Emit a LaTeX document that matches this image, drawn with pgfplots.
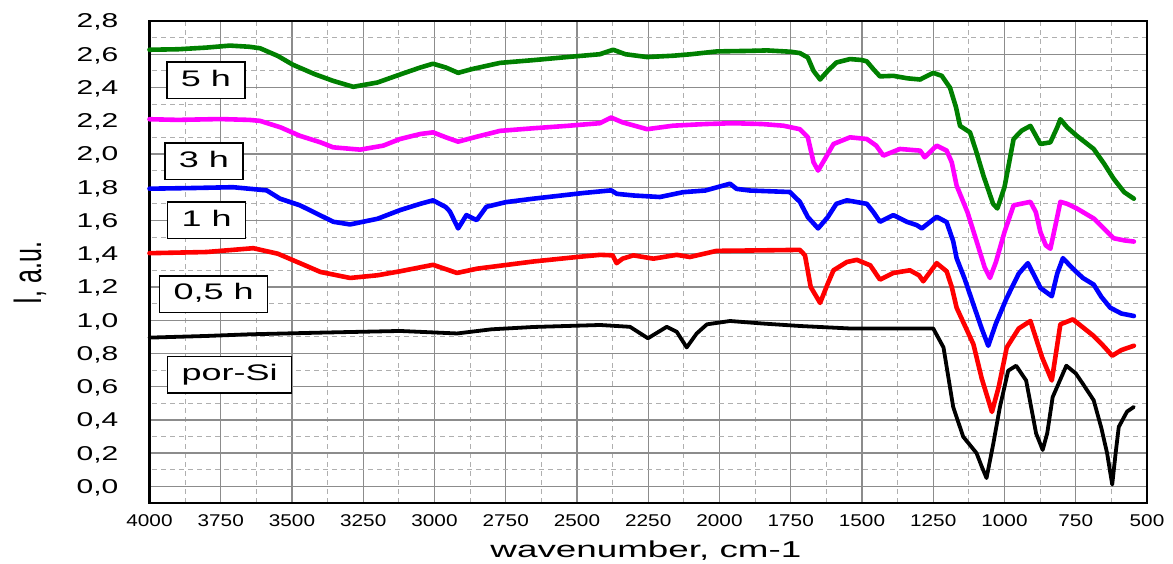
\documentclass[border=0pt]{standalone}
\usepackage{fontspec}
\usepackage{graphicx}
\setmainfont{Liberation Sans}
\newfontfamily\ytf{Liberation Sans}[FakeStretch=1.5]
\newfontfamily\xtf{Liberation Sans}[FakeStretch=1.22]
\newfontfamily\lbf{Liberation Sans}[FakeStretch=1.6]
\usepackage{pgfplots}
\pgfplotsset{compat=1.18}
\definecolor{cgreen}{RGB}{0,128,0}
\definecolor{cmag}{RGB}{255,0,255}
\definecolor{cblue}{RGB}{0,0,255}
\definecolor{cred}{RGB}{255,0,0}
\definecolor{majgrid}{RGB}{140,140,140}
\definecolor{mingrid}{RGB}{175,175,175}
\begin{document}
\begin{tikzpicture}
\useasboundingbox (-149.5pt,-61pt) rectangle (1023.5pt,503pt);
\begin{axis}[
  scale only axis,
  width=997.5pt, height=482pt,
  x dir=reverse,
  xmin=500, xmax=4000,
  ymin=-0.1, ymax=2.8,
  xtick={500,750,...,4000},
  ytick={0,0.2,...,2.81},
  minor x tick num=1, minor y tick num=1,
  major tick length=0pt, minor tick length=0pt,
  grid=both,
  major grid style={draw=majgrid, line width=1.3pt},
  minor grid style={draw=mingrid, line width=1pt, dash pattern=on 5pt off 4pt},
  axis line style={line width=2.5pt},
  /pgf/number format/assume math mode=true,
  yticklabel style={/pgf/number format/fixed, /pgf/number format/fixed zerofill, /pgf/number format/precision=1, /pgf/number format/use comma},
  xticklabel style={/pgf/number format/1000 sep={}},
  yticklabel style={font=\ytf\fontsize{20}{20}\selectfont, anchor=base east, inner sep=0pt, xshift=-31pt, yshift=-7pt},
  xticklabel style={font=\xtf\fontsize{17}{17}\selectfont, anchor=base, inner sep=0pt, yshift=-24pt},
  xlabel={wavenumber, cm-1},
  xlabel style={font=\lbf\fontsize{23}{23}\selectfont, at={(axis description cs:0.4977,-0.114)}, anchor=base, inner sep=0pt},
  ylabel={\scalebox{1}[1.6]{I, a.u.}},
  ylabel style={font=\fontsize{25}{25}\selectfont, at={(axis description cs:-0.1198,0.477)}, anchor=center, inner sep=0pt},
  every axis plot/.append style={line join=round, line cap=round},
  clip=false,
]
% 5 h
\addplot[cgreen, line width=4.6pt] coordinates {
(4000,2.627) (3900,2.630) (3800,2.640) (3718,2.652) (3650,2.645) (3612,2.636) (3550,2.59) (3497,2.537) (3420,2.48) (3356,2.44) (3285,2.404) (3200,2.43) (3121,2.478) (3050,2.52) (3005,2.543) (2960,2.52) (2917,2.488) (2870,2.51) (2770,2.548) (2650,2.565) (2535,2.583) (2420,2.60) (2373,2.627) (2330,2.60) (2254,2.583) (2163,2.591) (2100,2.60) (2009,2.617) (1900,2.62) (1833,2.623) (1750,2.615) (1718,2.607) (1690,2.58) (1670,2.50) (1647,2.448) (1620,2.50) (1590,2.55) (1542,2.571) (1500,2.565) (1483,2.557) (1460,2.51) (1437,2.467) (1390,2.47) (1340,2.455) (1296,2.448) (1250,2.488) (1220,2.47) (1191,2.398) (1170,2.28) (1156,2.169) (1121,2.13) (1100,2.02) (1074,1.87) (1040,1.70) (1025,1.672) (1000,1.80) (968,2.09) (940,2.14) (909,2.169) (874,2.06) (839,2.07) (815,2.16) (804,2.209) (780,2.16) (746,2.109) (687,2.03) (650,1.94) (617,1.851) (580,1.77) (546,1.731)
};
% 3 h
\addplot[cmag, line width=4.6pt] coordinates {
(4000,2.209) (3900,2.205) (3753,2.21) (3650,2.205) (3612,2.199) (3540,2.16) (3472,2.109) (3400,2.07) (3356,2.04) (3261,2.026) (3180,2.05) (3121,2.09) (3050,2.12) (3005,2.13) (2960,2.10) (2917,2.074) (2860,2.10) (2770,2.139) (2650,2.155) (2535,2.169) (2420,2.185) (2380,2.219) (2340,2.19) (2254,2.149) (2163,2.17) (2050,2.18) (1952,2.185) (1850,2.18) (1776,2.17) (1718,2.149) (1690,2.10) (1670,1.95) (1654,1.90) (1630,1.97) (1600,2.06) (1542,2.1) (1483,2.09) (1450,2.05) (1425,1.99) (1367,2.03) (1296,2.02) (1280,1.98) (1238,2.05) (1203,2.02) (1185,1.95) (1168,1.81) (1130,1.65) (1097,1.47) (1070,1.32) (1051,1.254) (1030,1.35) (1000,1.53) (968,1.691) (909,1.712) (890,1.65) (874,1.53) (855,1.45) (839,1.43) (820,1.58) (804,1.712) (780,1.70) (746,1.672) (700,1.625) (687,1.612) (650,1.55) (617,1.493) (580,1.48) (546,1.473)
};
% 1 h
\addplot[cblue, line width=4.6pt] coordinates {
(4000,1.791) (3850,1.795) (3707,1.80) (3589,1.781) (3542,1.731) (3472,1.691) (3400,1.63) (3355,1.592) (3296,1.576) (3200,1.61) (3121,1.662) (3050,1.70) (3005,1.721) (2960,1.68) (2946,1.654) (2917,1.552) (2888,1.632) (2852,1.602) (2818,1.682) (2750,1.71) (2653,1.731) (2478,1.765) (2380,1.781) (2360,1.76) (2300,1.75) (2209,1.741) (2128,1.77) (2050,1.78) (1963,1.821) (1940,1.79) (1893,1.78) (1753,1.771) (1718,1.712) (1690,1.62) (1654,1.552) (1620,1.62) (1590,1.70) (1553,1.721) (1483,1.70) (1460,1.65) (1437,1.592) (1390,1.632) (1340,1.59) (1308,1.572) (1290,1.552) (1238,1.622) (1203,1.59) (1180,1.475) (1168,1.373) (1140,1.25) (1109,1.094) (1080,0.95) (1057,0.846) (1030,0.98) (992,1.134) (950,1.28) (918,1.343) (890,1.25) (874,1.194) (834,1.144) (815,1.28) (795,1.373) (760,1.31) (725,1.254) (687,1.214) (660,1.14) (629,1.075) (590,1.04) (546,1.025)
};
% 0,5 h
\addplot[cred, line width=4.6pt] coordinates {
(4000,1.403) (3800,1.41) (3636,1.433) (3550,1.40) (3472,1.343) (3400,1.29) (3296,1.254) (3200,1.27) (3121,1.294) (3005,1.333) (2921,1.284) (2850,1.31) (2653,1.353) (2500,1.38) (2419,1.393) (2375,1.39) (2361,1.343) (2340,1.37) (2302,1.39) (2232,1.37) (2150,1.393) (2104,1.38) (2010,1.417) (1850,1.42) (1718,1.423) (1700,1.39) (1680,1.20) (1647,1.104) (1620,1.22) (1600,1.30) (1553,1.35) (1518,1.363) (1471,1.33) (1437,1.244) (1390,1.284) (1332,1.30) (1300,1.27) (1285,1.234) (1238,1.343) (1203,1.294) (1185,1.20) (1168,1.075) (1109,0.855) (1080,0.65) (1044,0.448) (1020,0.60) (992,0.836) (950,0.95) (909,0.995) (868,0.776) (834,0.637) (815,0.85) (804,0.975) (760,1.005) (687,0.905) (650,0.84) (622,0.786) (590,0.82) (546,0.846)
};
% por-Si
\addplot[black, line width=3.8pt] coordinates {
(4000,0.895) (3800,0.905) (3648,0.915) (3400,0.925) (3121,0.935) (2921,0.92) (2800,0.945) (2653,0.959) (2419,0.971) (2314,0.96) (2251,0.891) (2185,0.96) (2150,0.93) (2115,0.836) (2080,0.92) (2044,0.975) (1963,0.995) (1850,0.98) (1718,0.965) (1542,0.95) (1378,0.95) (1250,0.95) (1214,0.836) (1180,0.478) (1145,0.299) (1098,0.2) (1080,0.12) (1063,0.05) (1040,0.25) (1016,0.478) (987,0.696) (959,0.726) (924,0.637) (889,0.318) (866,0.219) (850,0.32) (831,0.537) (783,0.726) (750,0.68) (725,0.617) (687,0.518) (660,0.35) (640,0.2) (622,0.011) (610,0.2) (599,0.358) (570,0.45) (546,0.478)
};
\tikzset{lbl/.style={draw=black, line width=1.5pt, fill=white, anchor=west, font=\lbf\fontsize{22.5}{22.5}\selectfont, inner xsep=14pt, inner ysep=8pt, text height=16pt, text depth=4.5pt}}
\node[lbl] at (axis cs:3942,2.442) {5 h};
\node[lbl] at (axis cs:3949,1.955) {3 h};
\node[lbl] at (axis cs:3939,1.600) {1 h};
\node[lbl] at (axis cs:3967,1.157) {0,5 h};
\node[lbl] at (axis cs:3939,0.673) {por-Si};
\end{axis}
\end{tikzpicture}
\end{document}
